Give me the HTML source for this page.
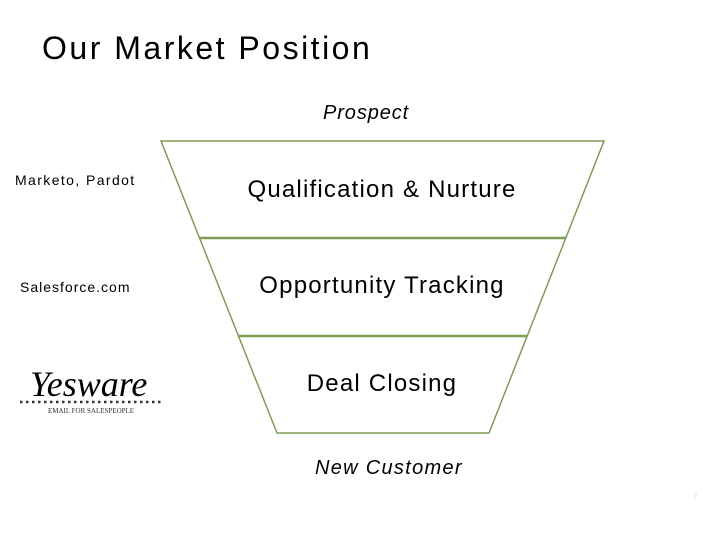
<!DOCTYPE html>
<html><head><meta charset="utf-8"><style>
html,body{margin:0;padding:0;background:#fff;}
body{width:720px;height:540px;position:relative;overflow:hidden;font-family:"Liberation Sans",sans-serif;color:#000;}
.t{position:absolute;white-space:nowrap;}
</style></head><body>
<div class="t" style="left:42px;top:30px;font-size:32px;letter-spacing:2.5px;">Our Market Position</div>
<div class="t" style="left:323px;top:102px;font-size:20px;font-style:italic;letter-spacing:0.9px;">Prospect</div>
<div class="t" style="left:315px;top:457px;font-size:20px;font-style:italic;letter-spacing:1.3px;">New Customer</div>
<div class="t" style="left:15px;top:172px;font-size:14px;letter-spacing:1.4px;">Marketo, Pardot</div>
<div class="t" style="left:20px;top:279px;font-size:14px;letter-spacing:1px;">Salesforce.com</div>
<svg width="720" height="540" style="position:absolute;left:0;top:0">
<polygon points="161,141 604,141 489,433 277,433" fill="#fff" stroke="#7f9b55" stroke-width="1.5"/>
<line x1="200" y1="238" x2="566" y2="238" stroke="#7f9b55" stroke-width="2.5"/>
<line x1="239" y1="336" x2="527" y2="336" stroke="#7f9b55" stroke-width="2.5"/>
<g font-size="24" text-anchor="middle" font-family="Liberation Sans, sans-serif" letter-spacing="1.2">
<text x="382" y="197">Qualification &amp; Nurture</text>
<text x="382" y="293">Opportunity Tracking</text>
<text x="382" y="391">Deal Closing</text>
</g>
<text x="30" y="396" font-size="36" font-style="italic" font-family="Liberation Serif, serif">Yesware</text>
<line x1="20" y1="402" x2="162" y2="402" stroke="#333" stroke-width="2.5" stroke-dasharray="2.5 3.5"/>
<text x="48" y="413" font-size="7" font-family="Liberation Serif, serif" fill="#333">EMAIL FOR SALESPEOPLE</text>
<text x="693" y="499" font-size="8" fill="#ddd" font-family="Liberation Sans, sans-serif">7</text>
</svg>
</body></html>
